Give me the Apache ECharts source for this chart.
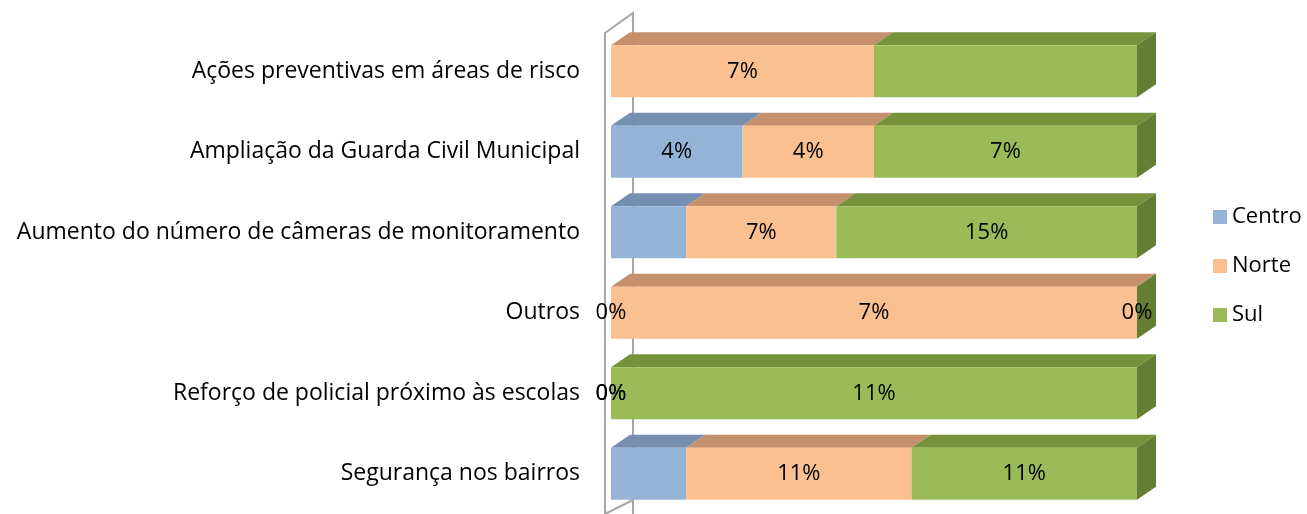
<!DOCTYPE html>
<html>
<head>
<meta charset="utf-8">
<script src="https://cdn.jsdelivr.net/npm/echarts@6/dist/echarts.min.js"></script>
<style>
  html, body { margin: 0; padding: 0; background: #fff; }
  #chart { width: 1307px; height: 514px; }
</style>
</head>
<body>
<div id="chart"></div>
<script>
// categorias (de cima para baixo)
const categories = [
  'Ações preventivas em áreas de risco',
  'Ampliação da Guarda Civil Municipal',
  'Aumento do número de câmeras de monitoramento',
  'Outros',
  'Reforço de policial próximo às escolas',
  'Segurança nos bairros'
]

// valores em % (base de 27 respostas)
const centro = [0, 3.7, 3.7, 0, 0, 3.7]
const norte = [7.4, 3.7, 7.4, 7.4, 0, 11.1]
const sul = [7.4, 7.4, 14.8, 0, 11.1, 11.1]

// rótulos que aparecem no gráfico original
const centroLabels = ['', '4%', '', '0%', '0%', '']
const norteLabels = ['7%', '4%', '7%', '7%', '0%', '11%']
const sulLabels = ['', '7%', '15%', '0%', '11%', '11%']

const names = ['Centro', 'Norte', 'Sul']
const raw = [centro, norte, sul]
const labels = [centroLabels, norteLabels, sulLabels]
const colors = ['#95b3d7', '#fac090', '#9bbb59']
const topColors = ['#768fb0', '#c4916c', '#76933c']
const sideColor = '#647e33'

const FONT = 'Open Sans'
const DX = 19
const DY = 13
const BAR_H = 52

// 100% empilhado
const totals = categories.map((_, i) => centro[i] + norte[i] + sul[i])
const pct = raw.map(arr => arr.map((v, i) => totals[i] ? v / totals[i] * 100 : 0))

// faces 3D (topo + lateral) a partir das posições acumuladas
const faceData = []
categories.forEach((_, i) => {
  let acc = 0
  pct.forEach((arr, s) => {
    faceData.push([acc, acc + arr[i], i, s])
    acc += arr[i]
  })
})

const chart = echarts.init(document.getElementById('chart'))

const gridLeft = 611
const gridTop = 31
const gridRight = 170
const gridH = 484

const barSeries = names.map((name, s) => ({
  name,
  type: 'bar',
  stack: 'total',
  barWidth: BAR_H,
  z: 3,
  itemStyle: { color: colors[s] },
  label: {
    show: true,
    position: 'inside',
    color: '#000',
    fontFamily: FONT,
    fontSize: 22,
    formatter: p => labels[s][p.dataIndex]
  },
  data: pct[s]
}))

const faces = {
  type: 'custom',
  z: 2,
  silent: true,
  renderItem(params, api) {
    const x0 = api.value(0)
    const x1 = api.value(1)
    const row = api.value(2)
    const s = api.value(3)
    const p0 = api.coord([x0, row])
    const p1 = api.coord([x1, row])
    const yt = p0[1] - BAR_H / 2
    const children = []
    if (p1[0] - p0[0] > 0.1) {
      children.push({
        type: 'polygon',
        shape: { points: [[p0[0], yt], [p1[0], yt], [p1[0] + DX, yt - DY], [p0[0] + DX, yt - DY]] },
        style: { fill: topColors[s] }
      })
    }
    if (s === names.length - 1) {
      children.push({
        type: 'polygon',
        shape: { points: [[p1[0], yt], [p1[0] + DX, yt - DY], [p1[0] + DX, yt - DY + BAR_H], [p1[0], yt + BAR_H]] },
        style: { fill: sideColor }
      })
    }
    return { type: 'group', children }
  },
  encode: { x: [0, 1], y: 2 },
  data: faceData
}

const wallX = gridLeft - 6
const wallStroke = { stroke: '#a6a6a6', lineWidth: 2, fill: null }

chart.setOption({
  backgroundColor: '#fff',
  animation: false,
  textStyle: { fontFamily: FONT },
  grid: {
    left: gridLeft,
    top: gridTop,
    right: gridRight,
    height: gridH
  },
  legend: {
    orient: 'vertical',
    left: 1208,
    top: 201,
    itemWidth: 14,
    itemHeight: 14,
    itemGap: 27,
    icon: 'rect',
    data: names,
    textStyle: { fontFamily: FONT, fontSize: 22, color: '#000' }
  },
  xAxis: {
    type: 'value',
    min: 0,
    max: 100,
    show: false
  },
  yAxis: {
    type: 'category',
    inverse: true,
    data: categories,
    axisLine: { show: false },
    axisTick: { show: false },
    axisLabel: {
      color: '#000',
      fontFamily: FONT,
      fontSize: 23,
      margin: 31
    }
  },
  graphic: [
    {
      type: 'polyline',
      z: 0,
      shape: { points: [[wallX + 28, 514], [wallX + 28, 13], [wallX, 33], [wallX, 514]] },
      style: wallStroke
    },
    {
      type: 'line',
      z: 0,
      shape: { x1: wallX, y1: 514, x2: wallX + 28, y2: 500 },
      style: wallStroke
    }
  ],
  series: [faces, ...barSeries]
})

window.addEventListener('resize', () => chart.resize())
</script>
</body>
</html>
